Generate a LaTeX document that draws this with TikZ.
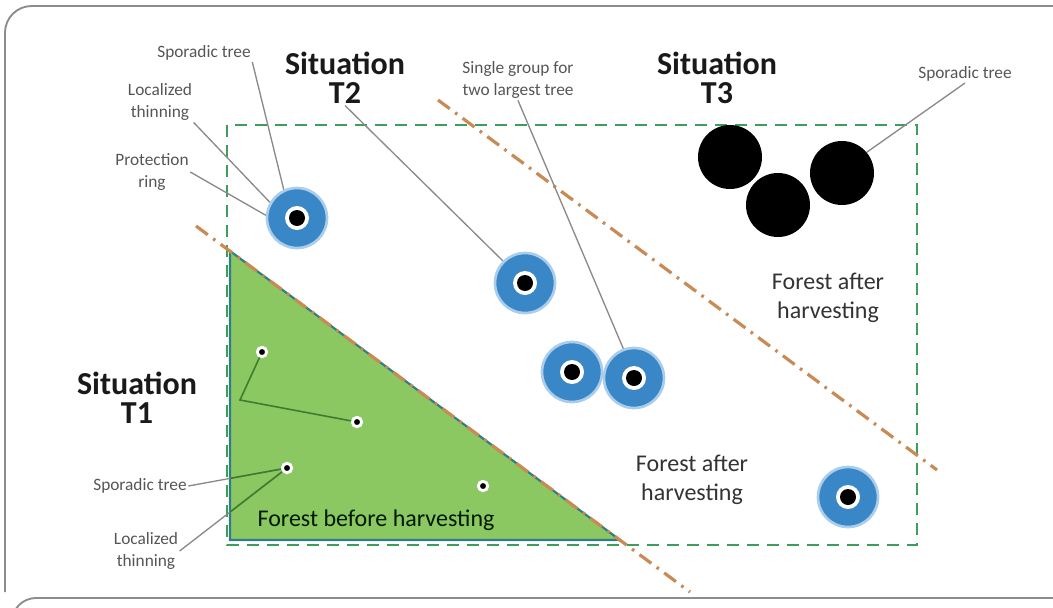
\documentclass[tikz,border=0pt]{standalone}
\usepackage{fontspec}
\setmainfont{Carlito}

\definecolor{framegray}{HTML}{8C8C8C}
\definecolor{labelgray}{HTML}{555555}
\definecolor{leadergray}{HTML}{8A8A8A}
\definecolor{zonegreen}{HTML}{3C9E5A}
\definecolor{forestfill}{HTML}{8BC862}
\definecolor{forestedge}{HTML}{2F7E86}
\definecolor{leadgreen}{HTML}{3E7D2E}
\definecolor{cutorange}{HTML}{C98B55}
\definecolor{treeblue}{HTML}{3A87C8}
\definecolor{glowblue}{HTML}{A9CDEB}

\tikzset{
  smalllabel/.style={text=labelgray, font=\fontsize{13}{17}\selectfont, align=center, inner sep=1pt},
  situation/.style={text=black!90, font=\bfseries\fontsize{24}{22}\selectfont, align=center, inner sep=1pt},
  forestlabel/.style={text=black!80, font=\fontsize{18}{22}\selectfont, align=center, inner sep=1pt},
  leader/.style={draw=leadergray, line width=1pt},
  leaderin/.style={draw=leadgreen, line width=1.2pt},
  bluetree/.style={circle, fill=treeblue, draw=glowblue, line width=2pt, minimum size=45pt, inner sep=0pt,
    path picture={\fill[white] (path picture bounding box.center) circle (9pt);
                  \fill[black] (path picture bounding box.center) circle (6pt);}},
  bigtree/.style={circle, fill=black, minimum size=48pt, inner sep=0pt},
  smalltree/.style={circle, fill=black, draw=white, line width=2.2pt, minimum size=7pt, inner sep=0pt},
  cutline/.style={draw=cutorange, line width=2.4pt, dash pattern=on 11pt off 5pt on 2pt off 5pt},
}

\begin{document}
\begin{tikzpicture}[x=0.75pt, y=-0.75pt]
\useasboundingbox (0,0) rectangle (1053,607);

% ---------- Frame ----------
\draw[framegray, line width=1.4pt, rounded corners=20pt] (5,592) -- (5,6) -- (1053,6);
\draw[framegray, line width=1.4pt, rounded corners=18pt] (12,630) -- (12,598) -- (1053,598);

% ---------- Forest zone ----------
\draw[zonegreen, line width=2.2pt, dash pattern=on 9pt off 6pt] (227,125) rectangle (917,545);
\filldraw[fill=forestfill, draw=forestedge, line width=1.6pt] (230,251) -- (230,540) -- (620,540) -- cycle;

% ---------- Cutting lines ----------
\draw[cutline] (196,226) -- (690,592);
\draw[cutline] (438,100) -- (937,470);

% ---------- Trees ----------
\node[bluetree] (ptree) at (297,218) {};
\node[bluetree] (midtree) at (525,283) {};
\node[bluetree] (pairL) at (572,372) {};
\node[bluetree] (pairR) at (634,378) {};
\node[bluetree] (lonetree) at (848,497) {};

\node[bigtree] (bigA) at (730,157) {};
\node[bigtree] (bigB) at (778,205) {};
\node[bigtree] (bigC) at (842,173) {};

\node[smalltree] (dotA) at (262,352) {};
\node[smalltree] (dotB) at (357,422) {};
\node[smalltree] (dotC) at (287,468) {};
\node[smalltree] (dotD) at (483,486) {};

% ---------- Labels ----------
\node[smalllabel] (sporTop) at (204,53) {Sporadic tree};
\node[smalllabel] (locTop) at (160,102) {Localized\\thinning};
\node[smalllabel] (protRing) at (152,172) {Protection\\ring};
\node[situation] (sitT2) at (345,78) {Situation\\T2};
\node[smalllabel] (groupLbl) at (518,80) {Single group for\\two largest tree};
\node[situation] (sitT3) at (717,78) {Situation\\T3};
\node[smalllabel] (sporRight) at (965,74) {Sporadic tree};
\node[forestlabel] (afterUp) at (828,298) {Forest after\\harvesting};
\node[forestlabel] (afterLow) at (692,480) {Forest after\\harvesting};
\node[forestlabel, text=black!75!green!40!black] (beforeLbl) at (376,520) {Forest before harvesting};
\node[situation] (sitT1) at (137,398) {Situation\\T1};
\node[smalllabel] (sporLeft) at (140,486) {Sporadic tree};
\node[smalllabel] (locLeft) at (146,551) {Localized\\thinning};

% ---------- Leaders ----------
\draw[leader] (sporTop.south east) -- (ptree.115);
\draw[leader] (locTop.south east) -- (ptree.150);
\draw[leader] (protRing.east) -- (ptree.175);
\draw[leader] (sitT2.south) -- (midtree.135);
\draw[leader] (groupLbl.south) -- (pairR.110);
\draw[leader] (sporRight.south) -- (bigC.40);

\coordinate (bracket) at (240,400);
\draw[leaderin] (dotA) -- (bracket) -- (dotB);

\draw[leader] (sporLeft.east) -- (dotC);
\draw[leader] (locLeft.east) -- (dotC);
\begin{scope}
  \clip (230,251) -- (230,540) -- (620,540) -- cycle;
  \draw[leaderin] (sporLeft.east) -- (dotC);
  \draw[leaderin] (locLeft.east) -- (dotC);
\end{scope}

\end{tikzpicture}
\end{document}
